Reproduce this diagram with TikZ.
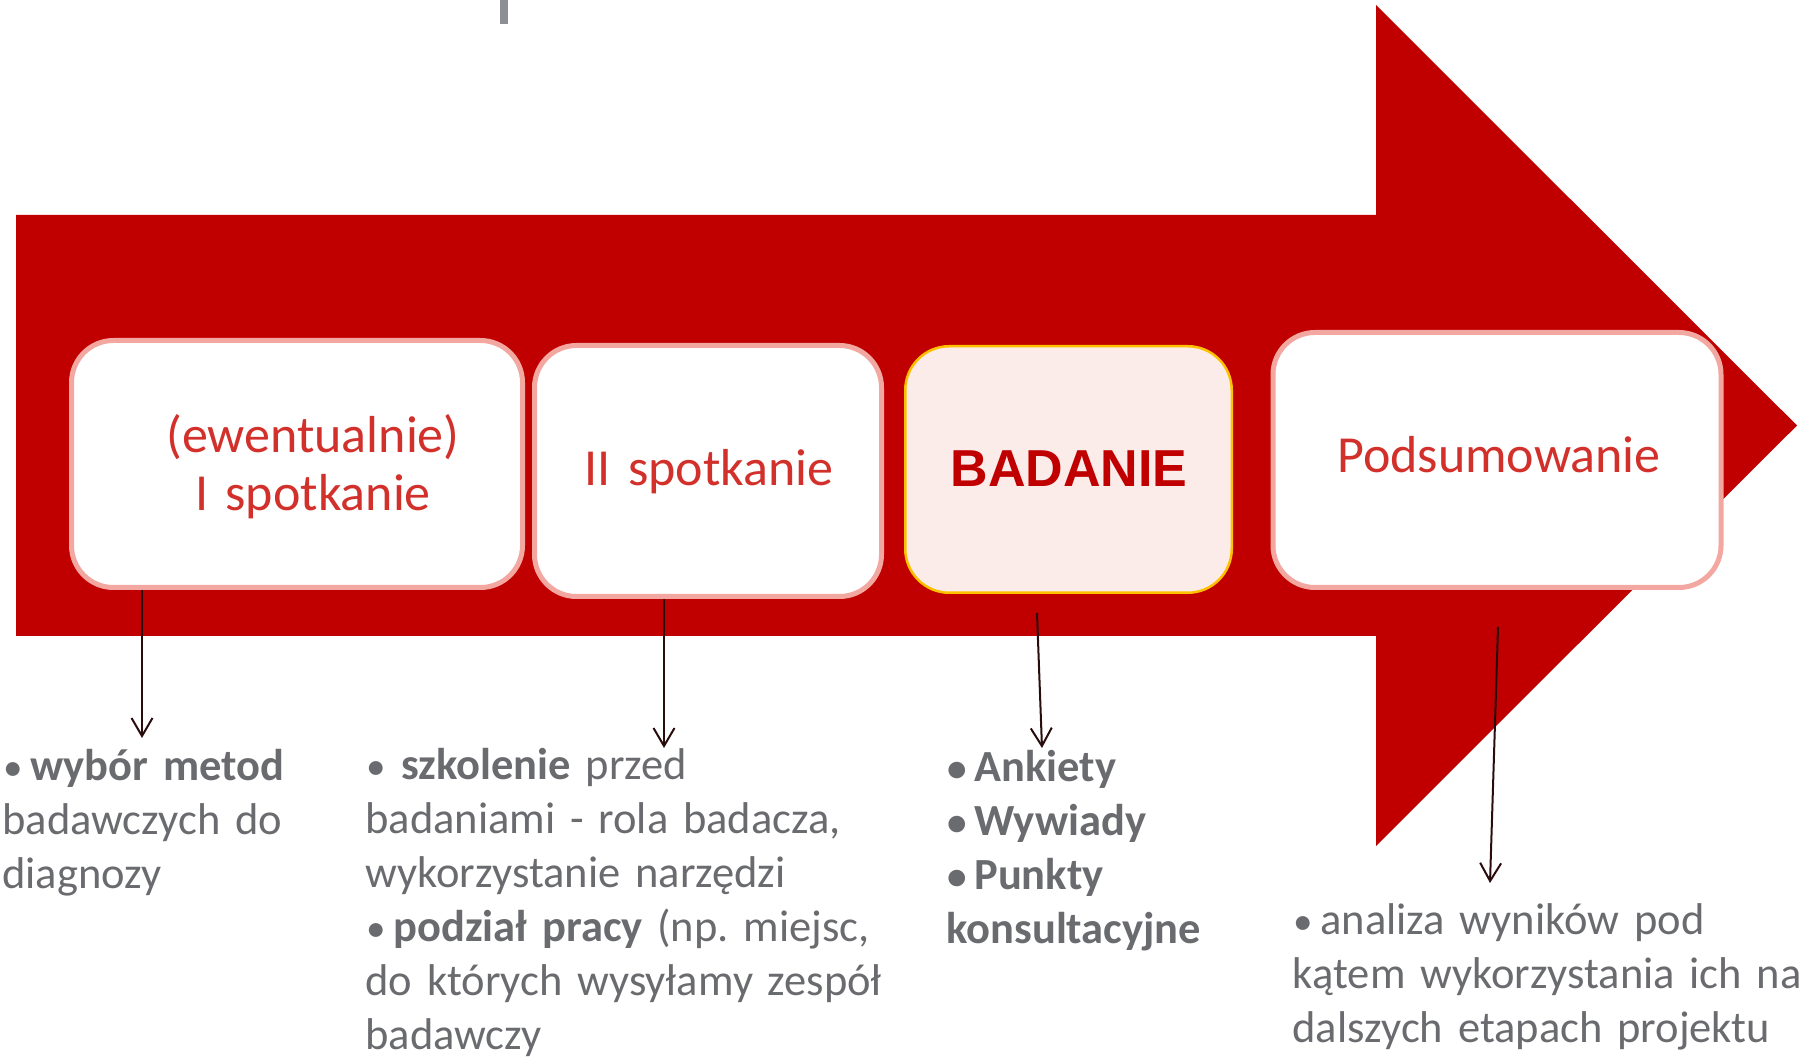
\documentclass[tikz,border=0pt]{standalone}
\usepackage{fontspec}
\setmainfont{Carlito}
\newfontfamily\arialfont{Liberation Sans}
\usetikzlibrary{arrows.meta}
\definecolor{arrowred}{HTML}{C00000}
\definecolor{boxborder}{HTML}{F2A8A1}
\definecolor{boxtext}{HTML}{D2302B}
\definecolor{graytext}{HTML}{6A6B6F}
\definecolor{connector}{HTML}{2A0C0C}
\definecolor{goldborder}{HTML}{FFC000}
\definecolor{pinkfill}{HTML}{FBEBE9}
\definecolor{bargray}{HTML}{8C8F93}
\frenchspacing
\newcommand\blt{\makebox[14pt][l]{\hspace{0.5pt}\raisebox{0.3pt}{\scalebox{0.88}{•}}}}
\begin{document}
\begin{tikzpicture}[x=0.5pt,y=-0.5pt,
  stagebox/.style={draw=boxborder, line width=2.5pt, fill=white, rounded corners=21pt, inner sep=0pt},
  focusbox/.style={draw=goldborder, line width=1.25pt, fill=pinkfill, rounded corners=22pt, inner sep=0pt},
  stagetext/.style={text=boxtext, inner sep=0pt, anchor=base, align=center, text width=300pt, font=\fontsize{26pt}{29pt}\selectfont},
  boldstage/.style={text=arrowred, inner sep=0pt, anchor=base, font=\arialfont\bfseries\fontsize{26pt}{29pt}\selectfont},
  notetext/.style={text=graytext, inner sep=0pt, anchor=base west, align=left, text width=420pt, font=\fontsize{22.25pt}{27pt}\selectfont},
  conn/.style={draw=connector, line width=1pt, -{Straight Barb[length=9pt,width=10.5pt]}}
]
\useasboundingbox (0,0) rectangle (1801,1058);
% small grey bar at the top
\fill[bargray] (500,0) rectangle (508,24);
% main arrow
\fill[arrowred] (16,215) -- (1376,215) -- (1376,5) -- (1797,425.5) -- (1376,846) -- (1376,636) -- (16,636) -- cycle;
% stage boxes
\node[stagebox, minimum width=225.5pt, minimum height=123.5pt] (b1) at (297,464) {};
\node[stagebox, minimum width=173.5pt, minimum height=125.5pt] (b2) at (708,471) {};
\node[focusbox, minimum width=163.25pt, minimum height=123.25pt] (b3) at (1068.5,469.5) {};
\node[stagebox, minimum width=224pt, minimum height=127.5pt] (b4) at (1497,460) {};
% stage labels
\node[stagetext] (t1) at (313,453) {(ewentualnie)\\I spotkanie};
\node[stagetext] (t2) at (709,486) {II spotkanie};
\node[boldstage] (t3) at (1069,487) {BADANIE};
\node[stagetext] (t4) at (1499,473) {Podsumowanie};
% notes
\node[notetext] (n1) at (2,781) {\blt\textbf{wybór metod}\\badawczych do\\diagnozy};
\node[notetext] (n2) at (365,780) {\blt\hspace{4pt}\textbf{szkolenie} przed\\badaniami - rola badacza,\\wykorzystanie narzędzi\\\blt\textbf{podział pracy} (np. miejsc,\\do których wysyłamy zespół\\badawczy};
\node[notetext, font=\bfseries\fontsize{22.25pt}{27pt}\selectfont] (n3) at (946,782) {\blt Ankiety\\\blt Wywiady\\\blt Punkty\\konsultacyjne};
\node[notetext] (n4) at (1292,935) {\blt analiza wyników pod\\kątem wykorzystania ich na\\dalszych etapach projektu};
% connectors
\coordinate (c1s) at (142,590); \coordinate (c1e) at (142,738);
\coordinate (c2s) at (664,599); \coordinate (c2e) at (664,748);
\coordinate (c3s) at (1037,613); \coordinate (c3e) at (1042,748);
\coordinate (c4s) at (1498,627); \coordinate (c4e) at (1490,883);
\draw[conn] (c1s) -- (c1e);
\draw[conn] (c2s) -- (c2e);
\draw[conn] (c3s) -- (c3e);
\draw[conn] (c4s) -- (c4e);
\end{tikzpicture}
\end{document}
